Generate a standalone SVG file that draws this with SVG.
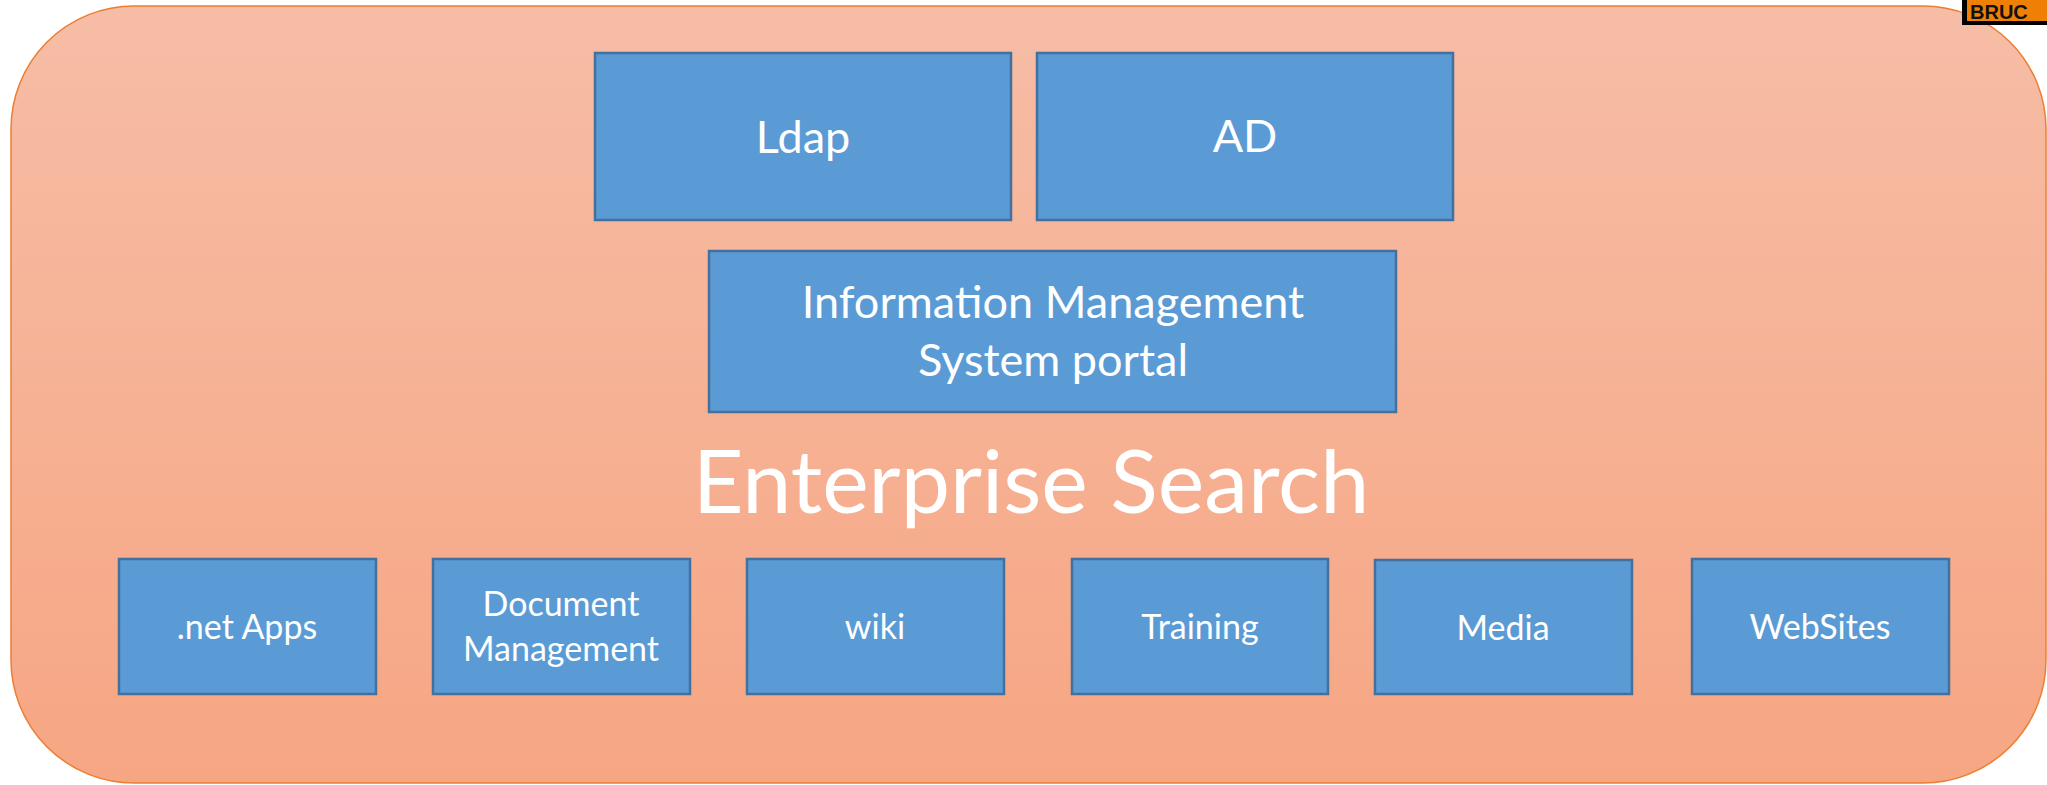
<svg xmlns="http://www.w3.org/2000/svg" width="2047" height="785" viewBox="0 0 2047 785">
<style>
.box{fill:#5B9BD5;stroke:#41719C;stroke-width:2.5}
.lbl{fill:#FFFFFF;font-family:Lato,"Open Sans","Liberation Sans",sans-serif;text-anchor:middle}
.s{font-size:34px}
.m{font-size:45px}
.l{font-size:45px}
</style>
<defs>
<linearGradient id="bg" x1="0" y1="0" x2="0" y2="1">
<stop offset="0" stop-color="#F6BDA6"/>
<stop offset="1" stop-color="#F6A683"/>
</linearGradient>
</defs>
<rect width="2047" height="785" fill="#FFFFFF"/>
<g id="container">
<rect x="11" y="6" width="2035" height="777" rx="123" ry="123" fill="url(#bg)" stroke="#ED7D31" stroke-width="1.5"/>
<text class="lbl" x="1031" y="513" font-size="88">Enterprise Search</text>
</g>
<g id="badge">
<rect x="1962" y="0" width="90" height="25" fill="#000000"/>
<rect x="1967" y="0" width="85" height="21" fill="#F07F06"/>
<text x="1970" y="19" font-family="'Liberation Sans',Arial,sans-serif" font-weight="bold" font-size="20" fill="#111111">BRUC</text>
</g>
<g id="connectors"></g>
<g id="ldap">
<rect class="box" x="595" y="53" width="416" height="167"/>
<text class="lbl l" x="803" y="153">Ldap</text>
</g>
<g id="ad">
<rect class="box" x="1037" y="53" width="416" height="167"/>
<text class="lbl l" x="1245" y="152">AD</text>
</g>
<g id="ims">
<rect class="box" x="709" y="251" width="687" height="161"/>
<text class="lbl m" x="1053" y="318">Information Management</text>
<text class="lbl m" x="1053" y="376">System portal</text>
</g>
<g id="netapps">
<rect class="box" x="119" y="559" width="257" height="135"/>
<text class="lbl s" x="247" y="639">.net Apps</text>
</g>
<g id="docmgmt">
<rect class="box" x="433" y="559" width="257" height="135"/>
<text class="lbl s" x="561" y="616">Document</text>
<text class="lbl s" x="561" y="661">Management</text>
</g>
<g id="wiki">
<rect class="box" x="747" y="559" width="257" height="135"/>
<text class="lbl s" x="875" y="639">wiki</text>
</g>
<g id="training">
<rect class="box" x="1072" y="559" width="256" height="135"/>
<text class="lbl s" x="1200" y="639">Training</text>
</g>
<g id="media">
<rect class="box" x="1375" y="560" width="257" height="134"/>
<text class="lbl s" x="1503" y="640">Media</text>
</g>
<g id="websites">
<rect class="box" x="1692" y="559" width="257" height="135"/>
<text class="lbl s" x="1820" y="639">WebSites</text>
</g>
</svg>
